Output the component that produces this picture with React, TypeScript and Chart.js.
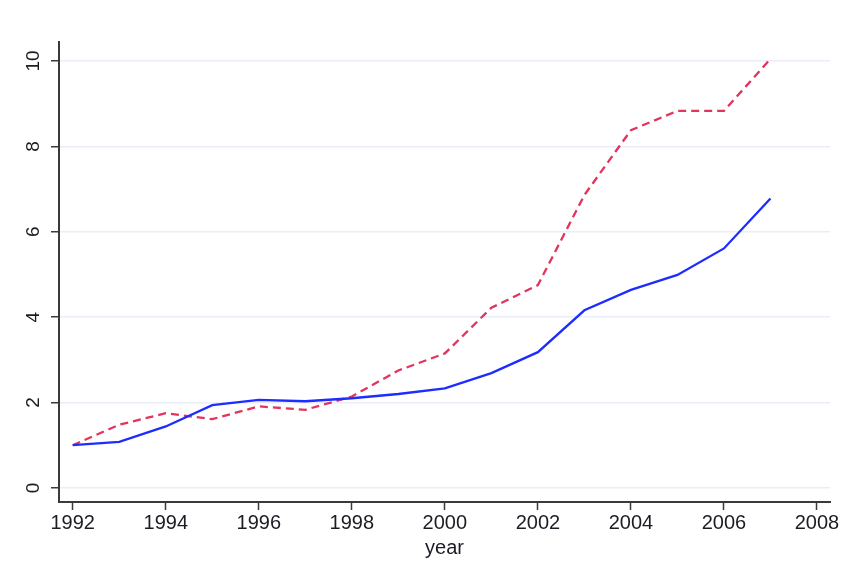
import { useEffect, useRef } from 'react';
import { Chart, registerables } from 'chart.js';

Chart.register(...registerables);

const years = [1992, 1993, 1994, 1995, 1996, 1997, 1998, 1999, 2000, 2001, 2002, 2003, 2004, 2005, 2006, 2007];
const solidSeries = [1.0, 1.08, 1.44, 1.94, 2.06, 2.03, 2.1, 2.2, 2.33, 2.69, 3.18, 4.16, 4.64, 4.99, 5.61, 6.78];
const dashedSeries = [1.0, 1.48, 1.75, 1.61, 1.91, 1.83, 2.14, 2.75, 3.15, 4.22, 4.75, 6.86, 8.38, 8.83, 8.83, 10.05];
const xTickValues = [1992, 1994, 1996, 1998, 2000, 2002, 2004, 2006, 2008];
const yTickValues = [0, 2, 4, 6, 8, 10];
const xTitle = 'year';

const FONT = 'Liberation Sans, Arial, Helvetica, sans-serif';
const TEXT = '#1c1c24';
const AXIS = '#3a3a3a';

export default function App() {
  const ref = useRef<HTMLCanvasElement | null>(null);

  useEffect(() => {
    if (!ref.current) return;
    const yLabelPlugin = {
      id: 'yLabels',
      afterDraw(chart: any) {
        const ctx = chart.ctx;
        const ys = chart.scales.y;
        ctx.save();
        ctx.font = `19px ${FONT}`;
        ctx.fillStyle = TEXT;
        ctx.textAlign = 'center';
        ctx.textBaseline = 'middle';
        for (const v of yTickValues) {
          const py = ys.getPixelForValue(v);
          ctx.save();
          ctx.translate(34, py);
          ctx.rotate(-Math.PI / 2);
          ctx.fillText(String(v), 0, 0);
          ctx.restore();
        }
        ctx.restore();
      },
    };
    const chart = new Chart(ref.current, {
      type: 'line',
      data: {
        datasets: [
          {
            label: 'solid',
            data: years.map((x, i) => ({ x, y: solidSeries[i] })),
            borderColor: 'rgb(30, 45, 255)',
            borderWidth: 2.3,
            pointRadius: 0,
            fill: false,
            tension: 0,
          },
          {
            label: 'dashed',
            data: years.map((x, i) => ({ x, y: dashedSeries[i] })),
            borderColor: 'rgb(226, 52, 92)',
            borderWidth: 2.3,
            borderDash: [8, 5],
            pointRadius: 0,
            fill: false,
            tension: 0,
          },
        ],
      },
      options: {
        animation: false,
        responsive: false,
        layout: { padding: { left: 0, top: 42, right: 26, bottom: 0 } },
        plugins: { legend: { display: false }, tooltip: { enabled: false } },
        scales: {
          x: {
            type: 'linear',
            min: 1991.705,
            max: 2008.28,
            afterBuildTicks: (s: any) => {
              s.ticks = xTickValues.map((v) => ({ value: v }));
            },
            afterFit: (s: any) => {
              s.height = 74;
            },
            ticks: {
              font: { size: 20, family: FONT },
              color: TEXT,
              padding: 1,
              maxRotation: 0,
              autoSkip: false,
              callback: (v: any) => String(v),
            },
            grid: { drawOnChartArea: false, tickLength: 8, tickColor: AXIS, tickWidth: 1.5 },
            border: { color: AXIS, width: 2 },
            title: {
              display: true,
              text: xTitle,
              color: TEXT,
              font: { size: 20, family: FONT },
              padding: { top: 0, bottom: 16 },
            },
          },
          y: {
            type: 'linear',
            min: -0.33,
            max: 10.445,
            afterBuildTicks: (s: any) => {
              s.ticks = yTickValues.map((v) => ({ value: v }));
            },
            afterFit: (s: any) => {
              s.width = 59;
            },
            ticks: { display: false },
            grid: { color: '#e9eef8', lineWidth: 1.5, tickLength: 8, tickColor: AXIS, tickWidth: 1.5 },
            border: { color: AXIS, width: 2 },
          },
        },
      },
      plugins: [yLabelPlugin],
    });
    return () => chart.destroy();
  }, []);

  return (
    <div style={{ position: 'fixed', left: 0, top: 0, width: 856, height: 576, background: '#fff' }}>
      <canvas ref={ref} width={856} height={576} />
    </div>
  );
}
